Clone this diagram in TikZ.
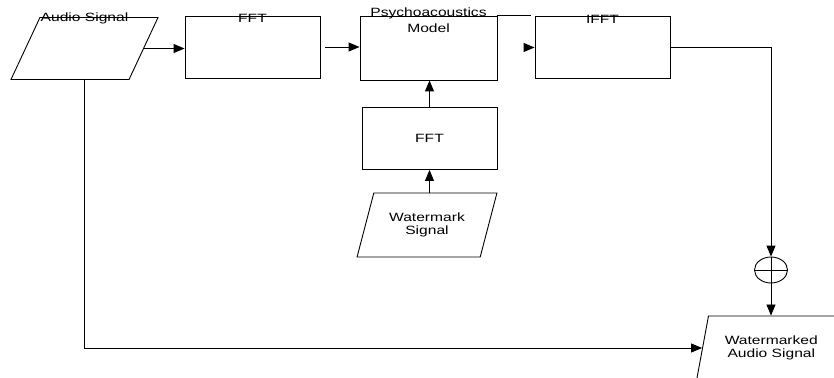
\documentclass[tikz,border=0pt]{standalone}
\usepackage{fontspec}
\setmainfont{Liberation Sans}[FakeStretch=1.3]
\usetikzlibrary{shapes.geometric,arrows.meta,calc}
\tikzset{
  block/.style={draw, minimum width=135pt, minimum height=62pt, inner sep=0pt},
  inout/.style={draw, trapezium, trapezium stretches=true, minimum height=62pt,
    inner sep=2pt, align=center},
  label text/.style={inner sep=0pt, anchor=base},
  flow/.style={-{Triangle[length=11pt,width=9pt]}},
  every picture/.append style={line width=0.9pt, font=\fontsize{12}{13.5}\selectfont}
}

\begin{document}
\begin{tikzpicture}[x=1pt, y=-1pt]
\clip (0,0) rectangle (834,377);

% Draw the upper chain of blocks
\node[inout, trapezium left angle=72, trapezium right angle=108,
      minimum width=147pt] (audio) at (84.5,48.5) {};
\node[label text] (audio lbl) at ($(audio.north)+(0,4)$) {Audio Signal};

\node[block] (fft1) at (252.5,47) {};
\node[label text] (fft1 lbl) at ($(fft1.north)+(0,7)$) {FFT};

\node[block, minimum width=137pt, minimum height=64pt] (psy) at (428.5,48) {};
\node[inner sep=0pt, anchor=north, align=center, font=\fontsize{12}{16}\selectfont]
      (psy lbl) at ($(psy.north)+(0,-8)$) {Psychoacoustics\\Model};

\node[block] (ifft) at (602.5,47.5) {};
\node[label text] (ifft lbl) at ($(ifft.north)+(0,7)$) {IFFT};

% Draw the watermark branch
\node[block] (fft2) at (429.5,138.5) {FFT};
\node[inout, trapezium left angle=66.4, trapezium right angle=113.6,
      minimum width=140pt, minimum height=64pt] (wm) at (427,225) {Watermark\\Signal};

% Draw the adder and the output
\node[draw, ellipse, minimum width=33pt, minimum height=26pt, inner sep=0pt] (xor) at (771,270) {};
\draw (xor.west) -- (xor.east);
\node[inout, trapezium left angle=72.3, trapezium right angle=107.7,
      minimum width=149.4pt, minimum height=64pt] (out) at (771.3,348) {Watermarked\\Audio Signal};

% Connectors
\draw[flow] (audio.east) -- (fft1.west |- audio.east);
\draw[flow, shorten <=5pt] (fft1.east) -- (psy.west |- fft1.east);
\draw (psy.north east) -- ++(34,0);
\draw[flow] ($(ifft.west)+(-11,0)$) -- (ifft.west);
\draw[flow] (ifft.east) -| (xor.north);
\draw[flow] (xor.north) -- (xor.north |- out.north);
\draw[flow] (fft2.north) -- (fft2.north |- psy.south);
\draw[flow] (wm.north -| fft2.north) -- (fft2.south);
\draw[flow] (audio.south) |- (out.west);

\end{tikzpicture}
\end{document}
